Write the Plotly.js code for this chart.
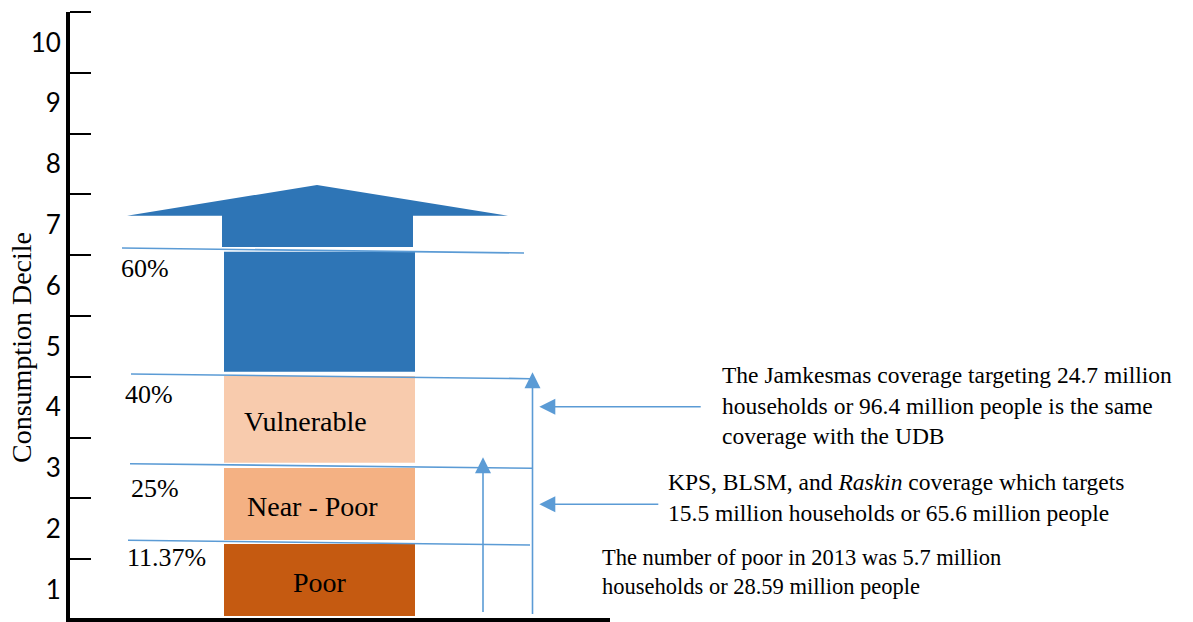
<!DOCTYPE html>
<html><head><meta charset="utf-8">
<script src="https://cdn.plot.ly/plotly-3.0.1.min.js"></script>
<style>html,body{margin:0;padding:0;background:#fff}</style>
</head><body><div id="chart" style="width:1193px;height:622px"></div>
<script>
// ---- data ----
const decileLabels = [1, 2, 3, 4, 5, 6, 7, 8, 9, 10];
const decileBounds = [1.5, 2.5, 3.5, 4.5, 5.5, 6.5, 7.5, 8.5, 9.5, 10.5];

const groupNames = ['Poor', 'Near - Poor', 'Vulnerable', 'Upper'];
const groupBottom = [0.566, 1.816, 3.087, 4.584];
const groupTop = [1.75, 3.0, 4.513, 6.557];
const groupLabelY = [1.117, 2.375, 3.773];

const cutLabels = ['60%', '40%', '25%', '11.37%'];
const cutLeftY = [6.618, 4.546, 3.071, 1.811];
const cutRightY = [6.536, 4.469, 2.995, 1.734];
const cutLabelY = [6.289, 4.209, 2.671, 1.536];

const upArrowX = [127, 222, 317, 413, 508];
const upArrowY = [6.635, 7.15, 7.655];

const coverageBaseY = [0.632, 0.599];
const coverageTopY = [3.176, 4.574];
const noteArrowY = [4.008, 2.403];

const notes = [
  'The Jamkesmas coverage targeting 24.7 million<br>households or 96.4 million people is the same<br>coverage with the UDB',
  'KPS, BLSM, and <i>Raskin</i> coverage which targets<br>15.5 million households or 65.6 million people',
  'The number of poor in 2013 was 5.7 million<br>households or 28.59 million people'
];
const noteY = [4.036, 2.523, 1.289];

// ---- styles / positions ----
const groupColors = ['#C55A11', '#F4B183', '#F8CBAD', '#2E75B6'];
const lineBlue = '#5B9BD5';
const serif = 'Liberation Serif, Times New Roman, serif';
const barX = 319.5, barW = 191;
const groupLabelX = [320, 312.5, 305.5];
const cutX0 = [122, 131, 130, 128], cutX1 = [524, 530, 532, 530];
const cutLabelX = [119, 123, 129, 125];
const coverageX = [483, 532.5];
const noteArrowTail = [700.7, 658.3], noteArrowTip = 539.3;
const noteX = [720, 666, 600];
const noteSize = [23.5, 23.5, 22.5];

const traces = [];
traces.push({
  type: 'bar', x: groupNames.map(() => barX), width: groupNames.map(() => barW),
  base: groupBottom, y: groupTop.map((t, i) => t - groupBottom[i]),
  marker: {color: groupColors, line: {width: 0}}, hoverinfo: 'skip'
});
traces.push({
  type: 'scatter', mode: 'lines', fill: 'toself', fillcolor: groupColors[3],
  line: {width: 0, color: groupColors[3]},
  x: [upArrowX[1], upArrowX[1], upArrowX[0], upArrowX[2], upArrowX[4], upArrowX[3], upArrowX[3], upArrowX[1]],
  y: [upArrowY[0], upArrowY[1], upArrowY[1], upArrowY[2], upArrowY[1], upArrowY[1], upArrowY[0], upArrowY[0]],
  hoverinfo: 'skip'
});
cutLabels.forEach((c, i) => {
  traces.push({type: 'scatter', mode: 'lines', x: [cutX0[i], cutX1[i]], y: [cutLeftY[i], cutRightY[i]],
    line: {color: lineBlue, width: 1.6}, hoverinfo: 'skip'});
});
coverageX.forEach((x, i) => {
  traces.push({type: 'scatter', mode: 'lines', x: [x, x], y: [coverageBaseY[i], coverageTopY[i] - 0.1],
    line: {color: lineBlue, width: 1.6}, hoverinfo: 'skip'});
  traces.push({type: 'scatter', mode: 'markers', x: [x], y: [coverageTopY[i]],
    marker: {symbol: 'arrow-up', size: 16, color: lineBlue, line: {width: 0}}, hoverinfo: 'skip'});
});
noteArrowY.forEach((y, i) => {
  traces.push({type: 'scatter', mode: 'lines', x: [noteArrowTail[i], noteArrowTip + 8], y: [y, y],
    line: {color: lineBlue, width: 1.6}, hoverinfo: 'skip'});
  traces.push({type: 'scatter', mode: 'markers', x: [noteArrowTip], y: [y],
    marker: {symbol: 'arrow-left', size: 16, color: lineBlue, line: {width: 0}}, hoverinfo: 'skip'});
});

const annotations = [];
groupLabelY.forEach((y, i) => annotations.push({
  x: groupLabelX[i], y: y, xref: 'x', yref: 'y', text: groupNames[i], showarrow: false,
  xanchor: 'center', yanchor: 'middle', font: {family: serif, size: 28, color: '#000'}
}));
cutLabels.forEach((c, i) => annotations.push({
  x: cutLabelX[i], y: cutLabelY[i], xref: 'x', yref: 'y', text: c, showarrow: false,
  xanchor: 'left', yanchor: 'middle', font: {family: serif, size: 26, color: '#000'}
}));
notes.forEach((t, i) => annotations.push({
  x: noteX[i], y: noteY[i], xref: 'x', yref: 'y', text: t, showarrow: false, align: 'left',
  xanchor: 'left', yanchor: 'middle', font: {family: serif, size: noteSize[i], color: '#000'}
}));
annotations.push({
  x: (22 - 70) / 1123, y: 4.974, xref: 'paper', yref: 'y', text: 'Consumption Decile',
  showarrow: false, textangle: -90, xanchor: 'center', yanchor: 'middle',
  font: {family: serif, size: 28, color: '#000'}
});

const layout = {
  width: 1193, height: 622, margin: {l: 70, r: 0, t: 12, b: 0},
  paper_bgcolor: '#fff', plot_bgcolor: '#fff', showlegend: false, barmode: 'overlay',
  xaxis: {range: [70, 1193], visible: false, fixedrange: true},
  yaxis: {
    range: [0.5 - 2 / 60.8, 10.5], showgrid: false, zeroline: false,
    showline: true, linecolor: '#000', linewidth: 4,
    tickmode: 'array', tickvals: decileLabels, ticktext: decileLabels.map(String), ticks: '',
    tickfont: {family: 'Lato, Liberation Sans, sans-serif', size: 26, color: '#000'},
    minor: {tickmode: 'array', tickvals: decileBounds, ticks: 'inside', ticklen: 21, tickwidth: 2, tickcolor: '#000', showgrid: false},
    fixedrange: true
  },
  shapes: [{type: 'line', xref: 'x', yref: 'y', x0: 70, x1: 610, y0: 0.5, y1: 0.5, line: {color: '#000', width: 4}}],
  annotations: annotations
};
Plotly.newPlot('chart', traces, layout, {displayModeBar: false, staticPlot: true});
</script></body></html>
